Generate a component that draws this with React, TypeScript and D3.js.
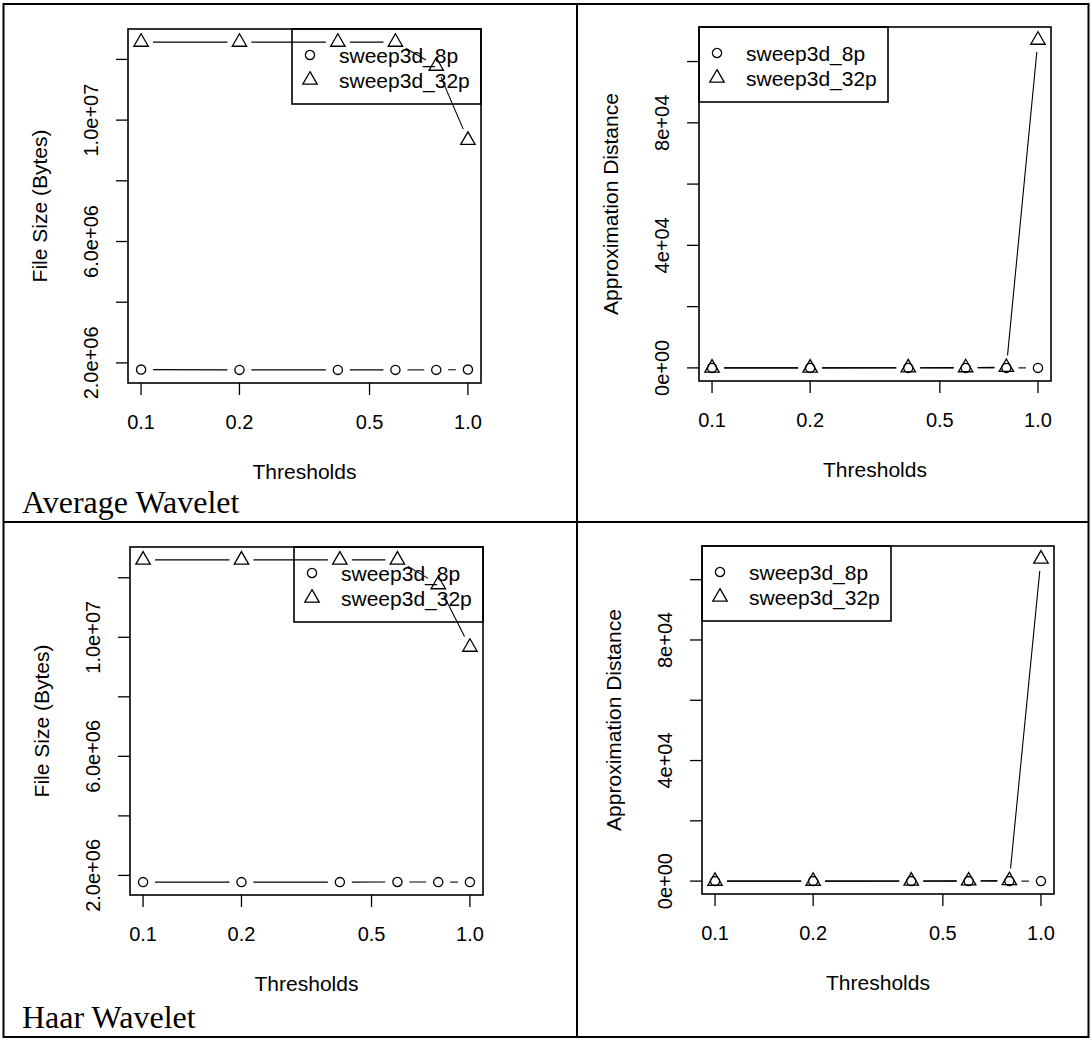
import React from "react";
import * as d3 from "d3";

const thresholds = [0.1, 0.2, 0.4, 0.6, 0.8, 1.0];
const seriesNames = ["sweep3d_8p", "sweep3d_32p"];

const avgSize8p = [1.78e6, 1.77e6, 1.77e6, 1.77e6, 1.77e6, 1.78e6];
const avgSize32p = [1.257e7, 1.257e7, 1.257e7, 1.257e7, 1.178e7, 9.34e6];
const avgDist8p = [0, 0, 0, 0, 0, 0];
const avgDist32p = [0, 0, 50, 100, 200, 107000];

const haarSize8p = [1.775e6, 1.775e6, 1.775e6, 1.78e6, 1.775e6, 1.775e6];
const haarSize32p = [1.26e7, 1.26e7, 1.26e7, 1.26e7, 1.177e7, 9.67e6];
const haarDist8p = [0, 0, 0, 0, 0, 0];
const haarDist32p = [0, 0, 50, 100, 200, 106900];

const xTicks = [0.1, 0.2, 0.5, 1.0];
const xTickLabels = ["0.1", "0.2", "0.5", "1.0"];
const sizeTicks = [2e6, 4e6, 6e6, 8e6, 1e7, 1.2e7];
const sizeTickLabels = ["2.0e+06", "", "6.0e+06", "", "1.0e+07", ""];
const distTicks = [0, 2e4, 4e4, 6e4, 8e4, 1e5];
const distTickLabels = ["0e+00", "", "4e+04", "", "8e+04", ""];

const SANS = "'Liberation Sans', Arial, Helvetica, sans-serif";
const SERIF = "'Liberation Serif', 'Times New Roman', serif";

type Box = { l: number; r: number; t: number; b: number };

function extend(lo: number, hi: number): [number, number] {
  const d = (hi - lo) * 0.04;
  return [lo - d, hi + d];
}

function Panel(props: {
  box: Box;
  s8: number[];
  s32: number[];
  yTicks: number[];
  yTickLabels: string[];
  yLabel: string;
  legend: "topleft" | "topright";
}) {
  const { box, s8, s32, yTicks, yTickLabels, yLabel, legend } = props;
  const lx = extend(Math.log10(thresholds[0]), Math.log10(thresholds[thresholds.length - 1]));
  const x = d3.scaleLog().domain([10 ** lx[0], 10 ** lx[1]]).range([box.l, box.r]);
  const all = s8.concat(s32);
  const ly = extend(d3.min(all) as number, d3.max(all) as number);
  const y = d3.scaleLinear().domain(ly).range([box.b, box.t]);

  const gap = 12;
  const segs = (vals: number[]) => {
    const out: string[] = [];
    for (let i = 1; i < vals.length; i++) {
      const x0 = x(thresholds[i - 1]), y0 = y(vals[i - 1]);
      const x1 = x(thresholds[i]), y1 = y(vals[i]);
      const len = Math.hypot(x1 - x0, y1 - y0);
      const f = gap / len;
      if (f < 0.5) {
        const p = d3.path();
        p.moveTo(x0 + f * (x1 - x0), y0 + f * (y1 - y0));
        p.lineTo(x1 + f * (x0 - x1), y1 + f * (y0 - y1));
        out.push(p.toString());
      }
    }
    return out;
  };
  const circ = d3.symbol().type(d3.symbolCircle).size(Math.PI * 4.6 * 4.6)();
  const tri = d3.symbol().type(d3.symbolTriangle).size(90)();

  const legW = 189, legH = 75;
  const legL = legend === "topright" ? box.r - legW : box.l;
  const legT = box.t;
  const midX = (box.l + box.r) / 2;
  const midY = (box.t + box.b) / 2;

  return (
    <g>
      {segs(s8).map((d, i) => (
        <path key={"a" + i} d={d} stroke="#000" strokeWidth={1.1} fill="none" />
      ))}
      {segs(s32).map((d, i) => (
        <path key={"b" + i} d={d} stroke="#000" strokeWidth={1.1} fill="none" />
      ))}
      {s8.map((v, i) => (
        <path key={"c" + i} d={circ as string} transform={`translate(${x(thresholds[i])},${y(v)})`} stroke="#000" strokeWidth={1.3} fill="none" />
      ))}
      {s32.map((v, i) => (
        <path key={"t" + i} d={tri as string} transform={`translate(${x(thresholds[i])},${y(v)})`} stroke="#000" strokeWidth={1.3} fill="none" />
      ))}
      <rect x={box.l} y={box.t} width={box.r - box.l} height={box.b - box.t} fill="none" stroke="#000" strokeWidth={1.6} />
      {xTicks.map((t, i) => (
        <g key={"xt" + i}>
          <line x1={x(t)} x2={x(t)} y1={box.b} y2={box.b + 12} stroke="#000" strokeWidth={1.3} />
          <text x={x(t)} y={box.b + 38.5} textAnchor="middle" dominantBaseline="central" fontFamily={SANS} fontSize={20} fill="#000">
            {xTickLabels[i]}
          </text>
        </g>
      ))}
      {yTicks.map((t, i) => (
        <g key={"yt" + i}>
          <line x1={box.l - 12} x2={box.l} y1={y(t)} y2={y(t)} stroke="#000" strokeWidth={1.3} />
          {yTickLabels[i] && (
            <text transform={`translate(${box.l - 37},${y(t)}) rotate(-90)`} textAnchor="middle" dominantBaseline="central" fontFamily={SANS} fontSize={20} fill="#000">
              {yTickLabels[i]}
            </text>
          )}
        </g>
      ))}
      <text x={midX} y={box.b + 88} textAnchor="middle" dominantBaseline="central" fontFamily={SANS} fontSize={21} fill="#000">
        Thresholds
      </text>
      <text transform={`translate(${box.l - 89},${midY}) rotate(-90)`} textAnchor="middle" dominantBaseline="central" fontFamily={SANS} fontSize={21} fill="#000">
        {yLabel}
      </text>
      <rect x={legL} y={legT} width={legW} height={legH} fill="none" stroke="#000" strokeWidth={1.6} />
      <path d={circ as string} transform={`translate(${legL + 18},${legT + 26})`} stroke="#000" strokeWidth={1.3} fill="none" />
      <path d={tri as string} transform={`translate(${legL + 18},${legT + 51})`} stroke="#000" strokeWidth={1.3} fill="none" />
      {seriesNames.map((n, i) => (
        <text key={"lg" + i} x={legL + 47} y={legT + 26 + 25 * i} dominantBaseline="central" fontFamily={SANS} fontSize={21} fill="#000">
          {n}
        </text>
      ))}
    </g>
  );
}

export default function App() {
  return (
    <svg width={1092} height={1041} style={{ position: "absolute", left: 0, top: 0, background: "#fff" }}>
      <rect x={0} y={0} width={1092} height={1041} fill="#fff" />
      <rect x={3.5} y={4} width={1085} height={1033} fill="none" stroke="#000" strokeWidth={2} />
      <line x1={577} x2={577} y1={4} y2={1037} stroke="#000" strokeWidth={2} />
      <line x1={3.5} x2={1088.5} y1={522} y2={522} stroke="#000" strokeWidth={2} />
      <Panel box={{ l: 128, r: 481, t: 29, b: 383 }} s8={avgSize8p} s32={avgSize32p} yTicks={sizeTicks} yTickLabels={sizeTickLabels} yLabel="File Size (Bytes)" legend="topright" />
      <Panel box={{ l: 699, r: 1051, t: 27, b: 381 }} s8={avgDist8p} s32={avgDist32p} yTicks={distTicks} yTickLabels={distTickLabels} yLabel="Approximation Distance" legend="topleft" />
      <Panel box={{ l: 130, r: 483, t: 547, b: 895 }} s8={haarSize8p} s32={haarSize32p} yTicks={sizeTicks} yTickLabels={sizeTickLabels} yLabel="File Size (Bytes)" legend="topright" />
      <Panel box={{ l: 702, r: 1054, t: 546, b: 894 }} s8={haarDist8p} s32={haarDist32p} yTicks={distTicks} yTickLabels={distTickLabels} yLabel="Approximation Distance" legend="topleft" />
      <text x={22} y={513} fontFamily={SERIF} fontSize={32} fill="#000">Average Wavelet</text>
      <text x={22} y={1028} fontFamily={SERIF} fontSize={32} fill="#000">Haar Wavelet</text>
    </svg>
  );
}
